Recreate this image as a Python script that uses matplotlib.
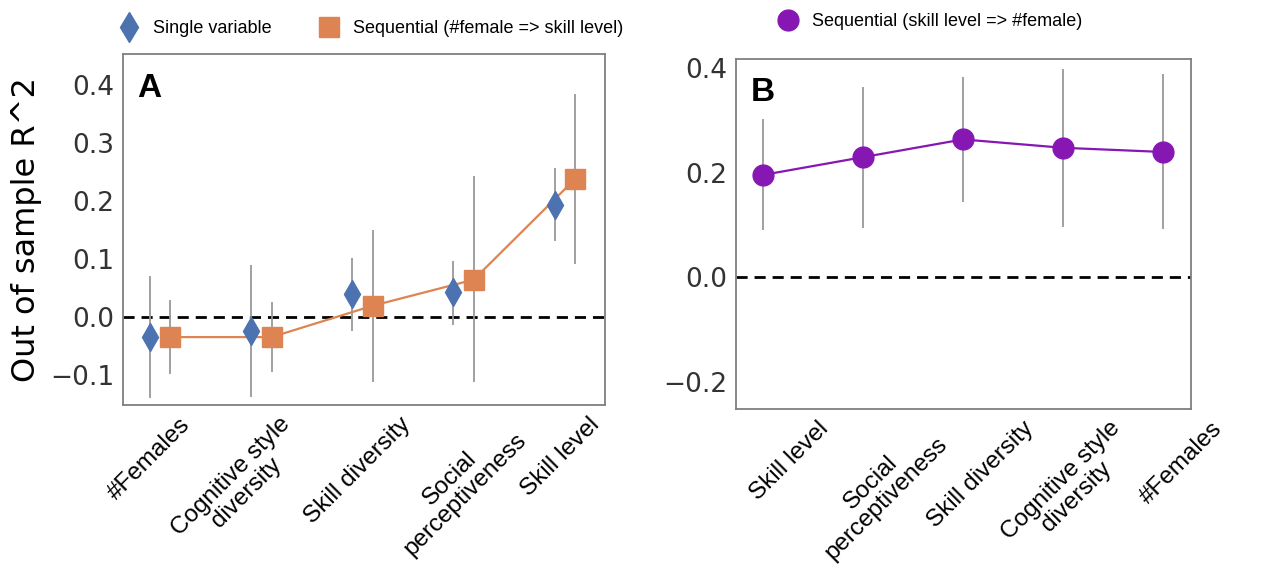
import numpy as np
import matplotlib
matplotlib.use("Agg")
import matplotlib.pyplot as plt
import matplotlib.transforms as mtransforms
from matplotlib.lines import Line2D

# panel A
labels_a = ["#Females", "Cognitive style\ndiversity", "Skill diversity",
            "Social\nperceptiveness", "Skill level"]
single_mean = [-0.035, -0.025, 0.040, 0.042, 0.193]
single_low = [-0.140, -0.138, -0.024, -0.014, 0.130]
single_high = [0.070, 0.090, 0.101, 0.097, 0.257]
seq_mean = [-0.035, -0.035, 0.019, 0.064, 0.237]
seq_low = [-0.099, -0.095, -0.113, -0.113, 0.091]
seq_high = [0.029, 0.025, 0.150, 0.242, 0.384]

# panel B
labels_b = ["Skill level", "Social\nperceptiveness", "Skill diversity",
            "Cognitive style\ndiversity", "#Females"]
rev_mean = [0.196, 0.230, 0.264, 0.248, 0.240]
rev_low = [0.091, 0.094, 0.145, 0.096, 0.093]
rev_high = [0.303, 0.364, 0.384, 0.399, 0.389]

BLUE = "#4C72B0"
ORANGE = "#DD8452"
PURPLE = "#8617B3"
ERR = "#999999"
SPINE = "#7f7f7f"
TICK = "#333333"
CAT_FONT = ["Liberation Sans", "DejaVu Sans"]

# horizontal nudges (pixels) of the rotated category labels, as in the figure
shift_a = [-11, -23, -5, -6, -4]
shift_b = [27, 16, 18, 6, 18]


def style_axes(fig, ax, labels, shifts):
    for s in ax.spines.values():
        s.set_color(SPINE)
        s.set_linewidth(1.3)
    ax.tick_params(axis="both", length=0, pad=6)
    ax.tick_params(axis="y", labelsize=19, labelcolor=TICK)
    ax.set_xticks(np.arange(len(labels)))
    ax.set_xticklabels(labels, rotation=45, ha="center", va="top",
                       linespacing=1.0)
    for lbl, dx in zip(ax.get_xticklabels(), shifts):
        lbl.set_fontfamily(CAT_FONT)
        lbl.set_fontsize(17.5)
        lbl.set_color("black")
        lbl.set_transform(lbl.get_transform() + mtransforms.ScaledTranslation(
            dx / 100, 0, fig.dpi_scale_trans))
    ax.axhline(0, color="black", lw=2, ls=(0, (4, 2.5)), zorder=1)


def plot_a(fig):
    ax = fig.add_axes([0.0966, 0.2845, 0.3787, 0.6201])
    x = np.arange(len(labels_a))
    ax.vlines(x - 0.1, single_low, single_high, color=ERR, lw=1.3, zorder=2)
    ax.plot(x - 0.1, single_mean, ls="none", marker="d", ms=14, color=BLUE, zorder=4)
    ax.vlines(x + 0.1, seq_low, seq_high, color=ERR, lw=1.3, zorder=2)
    ax.plot(x + 0.1, seq_mean, ls="-", lw=1.6, marker="s", ms=14, color=ORANGE, zorder=3)
    ax.set_xlim(-0.37, 4.4)
    ax.set_ylim(-0.152, 0.453)
    ax.set_yticks([-0.1, 0.0, 0.1, 0.2, 0.3, 0.4])
    style_axes(fig, ax, labels_a, shift_a)
    ax.set_ylabel("Out of sample R^2", fontsize=23)
    ax.yaxis.set_label_coords(-0.168, 0.5)
    ax.text(0.03, 0.946, "A", transform=ax.transAxes, fontsize=24,
            fontweight="bold", family=CAT_FONT, va="top", ha="left")
    handles = [
        Line2D([], [], ls="none", marker="d", ms=15, color=BLUE),
        Line2D([], [], ls="none", marker="s", ms=14, color=ORANGE),
    ]
    fig.legend(handles, ["Single variable", "Sequential (#female => skill level)"],
               loc="center left", bbox_to_anchor=(0.078, 0.949), ncol=2, frameon=False,
               prop={"family": CAT_FONT, "size": 13}, handletextpad=0.58,
               columnspacing=2.4, handlelength=1.5)


def plot_b(fig):
    ax = fig.add_axes([0.578, 0.2774, 0.3576, 0.6184])
    x = np.arange(len(labels_b))
    ax.vlines(x, rev_low, rev_high, color=ERR, lw=1.3, zorder=2)
    ax.plot(x, rev_mean, ls="-", lw=1.6, marker="o", ms=15, color=PURPLE, zorder=3)
    ax.set_xlim(-0.27, 4.28)
    ax.set_ylim(-0.252, 0.418)
    ax.set_yticks([-0.2, 0.0, 0.2, 0.4])
    style_axes(fig, ax, labels_b, shift_b)
    ax.text(0.033, 0.949, "B", transform=ax.transAxes, fontsize=24,
            fontweight="bold", family=CAT_FONT, va="top", ha="left")
    handles = [Line2D([], [], ls="none", marker="o", ms=15, color=PURPLE)]
    fig.legend(handles, ["Sequential (skill level => #female)"],
               loc="center left", bbox_to_anchor=(0.5956, 0.962), frameon=False,
               prop={"family": CAT_FONT, "size": 13}, handletextpad=0.58,
               handlelength=1.5)


def main():
    fig = plt.figure(figsize=(12.73, 5.66), dpi=100)
    plot_a(fig)
    plot_b(fig)
    fig.savefig("out.png", dpi=100, facecolor="white")


if __name__ == "__main__":
    main()
